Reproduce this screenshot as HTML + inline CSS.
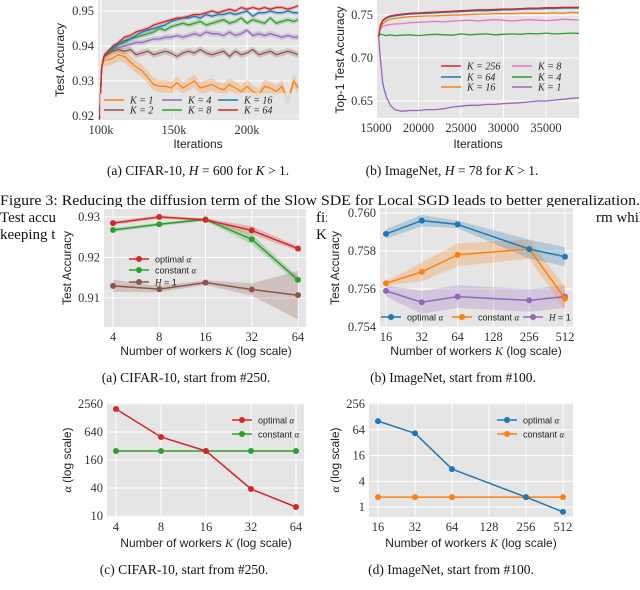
<!DOCTYPE html>
<html><head><meta charset="utf-8"><style>
html,body{margin:0;padding:0;background:#fff;}
svg{display:block;}
.tk{font-family:"Liberation Serif",serif;font-size:12.5px;fill:#333;}
.lb{font-family:"Liberation Sans",sans-serif;font-size:12px;fill:#222;}
.cap{font-family:"Liberation Serif",serif;font-size:13.5px;fill:#111;}
.cap2{font-family:"Liberation Serif",serif;font-size:15px;fill:#111;}
.lg{font-family:"Liberation Sans",sans-serif;font-size:9px;fill:#222;}
.lgs{font-family:"Liberation Serif",serif;font-size:10px;font-style:italic;fill:#222;}
</style></head><body>
<svg id="fig" width="640" height="590" viewBox="0 0 640 590" xmlns="http://www.w3.org/2000/svg">
<text class="cap2" x="0" y="205" textLength="640" lengthAdjust="spacingAndGlyphs">Figure 3: Reducing the diffusion term of the Slow SDE for Local SGD leads to better generalization.</text>
<text class="cap2" x="0" y="222">Test accu</text>
<text class="cap2" x="0" y="239">keeping t</text>
<text class="cap2" x="316" y="222">fi:</text>
<text class="cap2" x="316" y="239">K</text>
<text class="cap2" x="596" y="222">rm while</text>
<rect x="64" y="207" width="250" height="40" fill="#fff"/>
<rect x="327" y="207" width="268" height="40" fill="#fff"/>
<g id="root"></g>
<text class="cap" x="198" y="175" text-anchor="middle">(a) CIFAR-10, <tspan font-style="italic">H</tspan> = 600 for <tspan font-style="italic">K</tspan> &gt; 1.</text>
<text class="cap" x="452" y="175" text-anchor="middle">(b) ImageNet, <tspan font-style="italic">H</tspan> = 78 for <tspan font-style="italic">K</tspan> &gt; 1.</text>
<text class="cap" x="186" y="382" text-anchor="middle">(a) CIFAR-10, start from #250.</text>
<text class="cap" x="453" y="382" text-anchor="middle">(b) ImageNet, start from #100.</text>
<text class="cap" x="184" y="574" text-anchor="middle">(c) CIFAR-10, start from #250.</text>
<text class="cap" x="451" y="574" text-anchor="middle">(d) ImageNet, start from #100.</text>
</svg>
<script>
// ---------- Panel 1 data (CIFAR-10 curves) ----------
const p1Iters = [99,100.5,102,104,108,112,116,120,124,128,132,136,140,144,148,152,156,160,164,168,172,176,180,184,188,192,196,200,204,208,212,216,220,224,228,232,235];
const p1K64 = [0.919,0.934,0.937,0.938,0.940,0.941,0.9425,0.943,0.944,0.9445,0.945,0.946,0.9465,0.947,0.9475,0.948,0.948,0.9485,0.949,0.949,0.9495,0.950,0.9495,0.950,0.9505,0.950,0.951,0.9505,0.951,0.9505,0.951,0.9505,0.951,0.951,0.9505,0.951,0.9515];
const p1K16 = [0.919,0.934,0.937,0.938,0.9395,0.9405,0.9415,0.942,0.943,0.944,0.9445,0.945,0.9455,0.946,0.947,0.9475,0.948,0.948,0.9485,0.948,0.949,0.9485,0.949,0.949,0.9495,0.949,0.9495,0.950,0.9485,0.9495,0.9495,0.950,0.9495,0.9495,0.950,0.9495,0.9495];
const p1K8 = [0.919,0.934,0.937,0.938,0.939,0.9405,0.941,0.942,0.9425,0.943,0.9435,0.944,0.945,0.9445,0.9455,0.946,0.9465,0.946,0.9465,0.947,0.946,0.9465,0.947,0.9475,0.9465,0.947,0.948,0.9465,0.9475,0.947,0.9465,0.948,0.9465,0.947,0.9475,0.947,0.9475];
const p1K4 = [0.919,0.934,0.937,0.938,0.939,0.9395,0.940,0.9405,0.941,0.941,0.9415,0.942,0.942,0.9425,0.9425,0.943,0.9425,0.943,0.9435,0.943,0.944,0.9435,0.9435,0.943,0.944,0.943,0.9435,0.9445,0.943,0.9435,0.943,0.9435,0.943,0.9425,0.943,0.9425,0.9425];
const p1K2 = [0.919,0.934,0.937,0.9375,0.9385,0.939,0.9385,0.939,0.9375,0.938,0.9385,0.9375,0.938,0.9385,0.938,0.937,0.938,0.9385,0.938,0.939,0.938,0.9375,0.938,0.9385,0.937,0.9385,0.9375,0.938,0.939,0.9375,0.938,0.9385,0.9375,0.938,0.9385,0.938,0.9375];
const p1K1 = [0.919,0.934,0.936,0.936,0.9365,0.9375,0.937,0.9355,0.934,0.933,0.931,0.929,0.9285,0.9285,0.928,0.9295,0.928,0.929,0.930,0.928,0.9285,0.929,0.928,0.9275,0.929,0.928,0.927,0.9285,0.927,0.926,0.9285,0.928,0.927,0.9285,0.924,0.930,0.928];
const p1XTicks = [100,150,200];
const p1YTicks = [0.92,0.93,0.94,0.95];
// ---------- Panel 2 data (ImageNet curves) ----------
const p2Iters = [15.3,15.5,15.8,16.2,16.7,17.2,18,19,20,21,22,23,24,25,26,27,28,29,30,31,32,33,34,35,36,37,38,39];
const p2K256 = [0.725,0.738,0.744,0.747,0.749,0.750,0.751,0.752,0.7525,0.753,0.7535,0.754,0.7545,0.755,0.7555,0.756,0.756,0.7565,0.757,0.757,0.7575,0.758,0.758,0.7585,0.7585,0.759,0.759,0.759];
const p2K64 = [0.725,0.737,0.743,0.746,0.748,0.749,0.750,0.751,0.7515,0.752,0.7525,0.753,0.7535,0.754,0.7545,0.755,0.755,0.7555,0.756,0.756,0.7565,0.757,0.757,0.7575,0.7575,0.758,0.758,0.758];
const p2K16 = [0.725,0.735,0.740,0.743,0.745,0.746,0.747,0.748,0.7485,0.749,0.749,0.7495,0.750,0.750,0.7505,0.751,0.751,0.7515,0.7515,0.7515,0.752,0.752,0.752,0.752,0.7525,0.752,0.753,0.7525];
const p2K8 = [0.725,0.733,0.737,0.738,0.739,0.7395,0.740,0.741,0.7415,0.742,0.7425,0.742,0.743,0.7435,0.744,0.743,0.744,0.7445,0.744,0.743,0.744,0.7445,0.744,0.7435,0.744,0.745,0.7445,0.744];
const p2K4 = [0.725,0.728,0.727,0.726,0.727,0.726,0.7265,0.727,0.726,0.727,0.7275,0.727,0.7265,0.728,0.727,0.7275,0.728,0.727,0.7275,0.728,0.7275,0.7285,0.728,0.729,0.728,0.7285,0.729,0.7285];
const p2K1 = [0.725,0.700,0.670,0.655,0.645,0.640,0.638,0.639,0.639,0.640,0.640,0.641,0.643,0.644,0.645,0.645,0.646,0.646,0.647,0.6475,0.648,0.649,0.650,0.650,0.651,0.652,0.653,0.654];
const p2XTicks = [15000,20000,25000,30000,35000];
const p2YTicks = [0.65,0.70,0.75];
// ---------- Panel 3 data ----------
const p3K = [4,8,16,32,64];
const p3Opt = [0.9285,0.9300,0.9293,0.9267,0.9222];
const p3OptErr = [0.0005,0.0004,0.0004,0.0010,0.0006];
const p3Const = [0.9268,0.9282,0.9294,0.9245,0.9145];
const p3ConstErr = [0.0005,0.0004,0.0004,0.0012,0.0008];
const p3H1 = [0.9130,0.9122,0.9138,0.9121,0.9107];
const p3H1Err = [0.0015,0.0008,0.0006,0.0015,0.0060];
const p3YTicks = [0.91,0.92,0.93];
// ---------- Panel 4 data ----------
const p4K = [16,32,64,256,512];
const p4Opt = [0.7589,0.7596,0.7594,0.7581,0.7577];
const p4OptErr = [0.00025,0.0003,0.0002,0.0005,0.0005];
const p4Const = [0.7563,0.7569,0.7578,0.7581,0.7555];
const p4ConstErr = [0.0001,0.0005,0.0006,0.0005,0.0006];
const p4H1 = [0.7559,0.7553,0.7556,0.7554,0.7556];
const p4H1Err = [0.0003,0.0006,0.0006,0.0006,0.0006];
const p4XTicks = [16,32,64,128,256,512];
const p4YTicks = [0.754,0.756,0.758,0.760];
// ---------- Panel 5 data ----------
const p5K = [4,8,16,32,64];
const p5Opt = [2000,500,250,38,15.6];
const p5Const = [250,250,250,250,250];
const p5YTicks = [10,40,160,640,2560];
// ---------- Panel 6 data ----------
const p6K = [16,32,64,256,512];
const p6Opt = [102,53,7.7,1.7,0.77];
const p6Const = [1.7,1.7,1.7,1.7,1.7];
const p6XTicks = [16,32,64,128,256,512];
const p6YTicks = [1,4,16,64,256];

const C = {red:'#d62728',green:'#2ca02c',blue:'#1f77b4',orange:'#ff7f0e',purple:'#9467bd',brown:'#8c564b',pink:'#e377c2'};
const NS = 'http://www.w3.org/2000/svg';
const root = document.getElementById('root');
function mk(tag, attrs, parent){const e=document.createElementNS(NS,tag);for(const k in attrs)e.setAttribute(k,attrs[k]);(parent||root).appendChild(e);return e;}
function lin(d0,d1,p0,p1){return v=>p0+(v-d0)*(p1-p0)/(d1-d0);}
const log2=Math.log2, log4=v=>Math.log(v)/Math.log(4);

function frame(r,name){
  const bg=mk('rect',{x:r[0],y:r[1],width:r[2]-r[0],height:r[3]-r[1],fill:'#e5e5e5'});
  
  
}
function clipFor(r,id){const cp=mk('clipPath',{id:id});mk('rect',{x:r[0],y:r[1],width:r[2]-r[0],height:r[3]-r[1]},cp);return 'url(#'+id+')';}
function ygrid(r,vals,sy,fmt,name){
  vals.forEach(v=>{const y=sy(v);
    const g=mk('line',{x1:r[0],x2:r[2],y1:y,y2:y,stroke:'#fff','stroke-width':1});
    
    
    const t=mk('text',{x:r[0]-4,y:y+4,'text-anchor':'end',class:'tk'});t.textContent=fmt(v);
    
    
  });
}
function xgrid(r,vals,sx,fmt,name){
  vals.forEach(v=>{const x=sx(v);
    const g=mk('line',{x1:x,x2:x,y1:r[1],y2:r[3],stroke:'#fff','stroke-width':1});
    
    
    const t=mk('text',{x:x,y:r[3]+14,'text-anchor':'middle',class:'tk'});t.textContent=fmt(v);
    
    
  });
}
function line(xs,ys,sx,sy,color,name,clip,w,markers){
  const d=xs.map((x,i)=>(i?'L':'M')+sx(x).toFixed(1)+','+sy(ys[i]).toFixed(1)).join('');
  const p=mk('path',{d:d,fill:'none',stroke:color,'stroke-width':w||1.3,'clip-path':clip||'','stroke-linejoin':'round'});
  
  
  if(markers) xs.forEach((x,i)=>{const c=mk('circle',{cx:sx(x),cy:sy(ys[i]),r:3,fill:color});
    
    });
}
function band(xs,ys,err,sx,sy,color,name,clip,scalar){
  const up=xs.map((x,i)=>sx(x).toFixed(1)+','+sy(ys[i]+(scalar!==undefined?scalar:err[i])).toFixed(1));
  const lo=xs.map((x,i)=>sx(x).toFixed(1)+','+sy(ys[i]-(scalar!==undefined?scalar:err[i])).toFixed(1)).reverse();
  const p=mk('polygon',{points:up.concat(lo).join(' '),fill:color,'fill-opacity':0.25,'clip-path':clip||''});
  
  
}
function label(x,y,txt,cls,rot,name){
  const t=mk('text',{x:x,y:y,'text-anchor':'middle',class:cls});
  if(rot) t.setAttribute('transform','rotate(-90 '+x+' '+y+')');
  t.innerHTML=txt;
  
  
}
function legendEntry(x,y,color,txt,cls,marker,name){
  const l=mk('line',{x1:x,x2:x+20,y1:y,y2:y,stroke:color,'stroke-width':1.5});
  
  
  if(marker){const c=mk('circle',{cx:x+10,cy:y,r:3,fill:color});
    
    }
  const t=mk('text',{x:x+26,y:y+3.5,class:cls});t.innerHTML=txt;
  
  
}
const Kt=v=>'<tspan font-style="italic">K</tspan> = '+v;
const alpha='<tspan font-family="Liberation Serif" font-style="italic">α</tspan>';

// ---------- Panel 1 ----------
(function(){
  const r=[98,0,299,120], n='cifar-curves';
  frame(r,n); const cl=clipFor(r,'c1');
  const sx=lin(100,200,101,247), sy=lin(0.92,0.95,116,11);
  ygrid(r,p1YTicks,sy,v=>v.toFixed(2),n); xgrid(r,p1XTicks,sx,v=>v+'k',n);
  const S=[[p1K1,C.orange,'k1',0.0018],[p1K2,C.brown,'k2',0.0009],[p1K4,C.purple,'k4',0.0008],[p1K8,C.green,'k8',0.0007],[p1K16,C.blue,'k16',0.0006],[p1K64,C.red,'k64',0.0005]];
  S.forEach(s=>band(p1Iters,s[0],null,sx,sy,s[1],n+'-'+s[2],cl,s[3]));
  S.forEach(s=>line(p1Iters,s[0],sx,sy,s[1],n+'-'+s[2],cl,1.3));
  const lb=mk('rect',{x:100,y:93,width:196,height:24,fill:'#e5e5e5','fill-opacity':0.8,rx:2});
   
  legendEntry(104,100,C.orange,Kt(1),'lgs',false,'legend-k1');
  legendEntry(104,110,C.brown,Kt(2),'lgs',false,'legend-k2');
  legendEntry(162,100,C.purple,Kt(4),'lgs',false,'legend-k4');
  legendEntry(162,110,C.green,Kt(8),'lgs',false,'legend-k8');
  legendEntry(218,100,C.blue,Kt(16),'lgs',false,'legend-k16');
  legendEntry(218,110,C.red,Kt(64),'lgs',false,'legend-k64');
  label(64,60,'Test Accuracy','lb',true,'cifar-curves-y-axis-title');
  label(198,148,'Iterations','lb',false,'cifar-curves-x-axis-title');
})();
// ---------- Panel 2 ----------
(function(){
  const r=[377,0,579,118], n='imagenet-curves';
  frame(r,n); const cl=clipFor(r,'c2');
  const sx=lin(15,35,376,546), sy=lin(0.65,0.75,101,15);
  ygrid(r,p2YTicks,sy,v=>v.toFixed(2),n); xgrid(r,p2XTicks,v=>sx(v/1000),v=>String(v),n);
  const S=[[p2K1,C.purple,'k1'],[p2K4,C.green,'k4'],[p2K8,C.pink,'k8'],[p2K16,C.orange,'k16'],[p2K64,C.blue,'k64'],[p2K256,C.red,'k256']];
  S.forEach(s=>line(p2Iters,s[0],sx,sy,s[1],n+'-'+s[2],cl,1.3));
  legendEntry(441,66,C.red,Kt(256),'lgs',false,'legend-k256');
  legendEntry(441,77,C.blue,Kt(64),'lgs',false,'legend-k64-b');
  legendEntry(441,87,C.orange,Kt(16),'lgs',false,'legend-k16-b');
  legendEntry(512,66,C.pink,Kt(8),'lgs',false,'legend-k8-b');
  legendEntry(512,77,C.green,Kt(4),'lgs',false,'legend-k4-b');
  legendEntry(512,87,C.purple,Kt(1),'lgs',false,'legend-k1-b');
  label(344,60,'Top-1 Test Accuracy','lb',true,'imagenet-curves-y-axis-title');
  label(478,148,'Iterations','lb',false,'imagenet-curves-x-axis-title');
})();
// ---------- Panel 3 ----------
(function(){
  const r=[104,209,306,327], n='cifar-acc';
  frame(r,n); const cl=clipFor(r,'c3');
  const sx=k=>lin(2,6,113,298)(log2(k)), sy=lin(0.91,0.93,298,217);
  ygrid(r,p3YTicks,sy,v=>v.toFixed(2),n); xgrid(r,p3K,sx,String,n);
  band(p3K,p3H1,p3H1Err,sx,sy,C.brown,n+'-h1',cl);
  band(p3K,p3Const,p3ConstErr,sx,sy,C.green,n+'-constant',cl);
  band(p3K,p3Opt,p3OptErr,sx,sy,C.red,n+'-optimal',cl);
  line(p3K,p3H1,sx,sy,C.brown,n+'-h1',null,1.5,true);
  line(p3K,p3Const,sx,sy,C.green,n+'-constant',null,1.5,true);
  line(p3K,p3Opt,sx,sy,C.red,n+'-optimal',null,1.5,true);
  legendEntry(129,259,C.red,'optimal '+alpha,'lg',true,'cifar-acc-optimal');
  legendEntry(129,270,C.green,'constant '+alpha,'lg',true,'cifar-acc-constant');
  legendEntry(129,282,C.brown,'<tspan font-family="Liberation Serif" font-style="italic">H</tspan> = 1','lg',true,'cifar-acc-h1');
  label(71,268,'Test Accuracy','lb',true,'cifar-acc-y-axis-title');
  label(206,355,'Number of workers <tspan font-family="Liberation Serif" font-style="italic">K</tspan> (log scale)','lb',false,'cifar-acc-x-axis-title');
})();
// ---------- Panel 4 ----------
(function(){
  const r=[380,208,573,327], n='imagenet-acc';
  frame(r,n); const cl=clipFor(r,'c4');
  const sx=k=>lin(4,9,386,565)(log2(k)), sy=lin(0.754,0.760,327,213);
  ygrid(r,p4YTicks,sy,v=>v.toFixed(3),n); xgrid(r,p4XTicks,sx,String,n);
  band(p4K,p4H1,p4H1Err,sx,sy,C.purple,n+'-h1',cl);
  band(p4K,p4Const,p4ConstErr,sx,sy,C.orange,n+'-constant',cl);
  band(p4K,p4Opt,p4OptErr,sx,sy,C.blue,n+'-optimal',cl);
  line(p4K,p4H1,sx,sy,C.purple,n+'-h1',null,1.5,true);
  line(p4K,p4Const,sx,sy,C.orange,n+'-constant',null,1.5,true);
  line(p4K,p4Opt,sx,sy,C.blue,n+'-optimal',null,1.5,true);
  legendEntry(381,317,C.blue,'optimal '+alpha,'lg',true,'imagenet-acc-optimal');
  legendEntry(452,317,C.orange,'constant '+alpha,'lg',true,'imagenet-acc-constant');
  legendEntry(523,317,C.purple,'<tspan font-family="Liberation Serif" font-style="italic">H</tspan> = 1','lg',true,'imagenet-acc-h1');
  label(339,268,'Test Accuracy','lb',true,'imagenet-acc-y-axis-title');
  label(476,355,'Number of workers <tspan font-family="Liberation Serif" font-style="italic">K</tspan> (log scale)','lb',false,'imagenet-acc-x-axis-title');
})();
// ---------- Panel 5 ----------
(function(){
  const r=[107,403,304,517], n='cifar-alpha';
  frame(r,n);
  const sx=k=>lin(2,6,116,296)(log2(k)), sy=v=>lin(log4(10),log4(2560),516,404)(log4(v));
  ygrid(r,p5YTicks,sy,String,n); xgrid(r,p5K,sx,String,n);
  line(p5K,p5Const,sx,sy,C.green,n+'-constant',null,1.5,true);
  line(p5K,p5Opt,sx,sy,C.red,n+'-optimal',null,1.5,true);
  legendEntry(232,420,C.red,'optimal '+alpha,'lg',true,'cifar-alpha-optimal');
  legendEntry(232,434,C.green,'constant '+alpha,'lg',true,'cifar-alpha-constant');
  label(71,460,alpha+' (log scale)','lb',true,'cifar-alpha-y-axis-title');
  label(206,547,'Number of workers <tspan font-family="Liberation Serif" font-style="italic">K</tspan> (log scale)','lb',false,'cifar-alpha-x-axis-title');
})();
// ---------- Panel 6 ----------
(function(){
  const r=[369,403,573,517], n='imagenet-alpha';
  frame(r,n);
  const sx=k=>lin(4,9,378,563)(log2(k)), sy=v=>lin(0,4,507,404)(log4(v));
  ygrid(r,p6YTicks,sy,String,n); xgrid(r,p6XTicks,sx,String,n);
  line(p6K,p6Const,sx,sy,C.orange,n+'-constant',null,1.5,true);
  line(p6K,p6Opt,sx,sy,C.blue,n+'-optimal',null,1.5,true);
  legendEntry(497,420,C.blue,'optimal '+alpha,'lg',true,'imagenet-alpha-optimal');
  legendEntry(497,434,C.orange,'constant '+alpha,'lg',true,'imagenet-alpha-constant');
  label(339,460,alpha+' (log scale)','lb',true,'imagenet-alpha-y-axis-title');
  label(471,547,'Number of workers <tspan font-family="Liberation Serif" font-style="italic">K</tspan> (log scale)','lb',false,'imagenet-alpha-x-axis-title');
})();
</script>
</body></html>
